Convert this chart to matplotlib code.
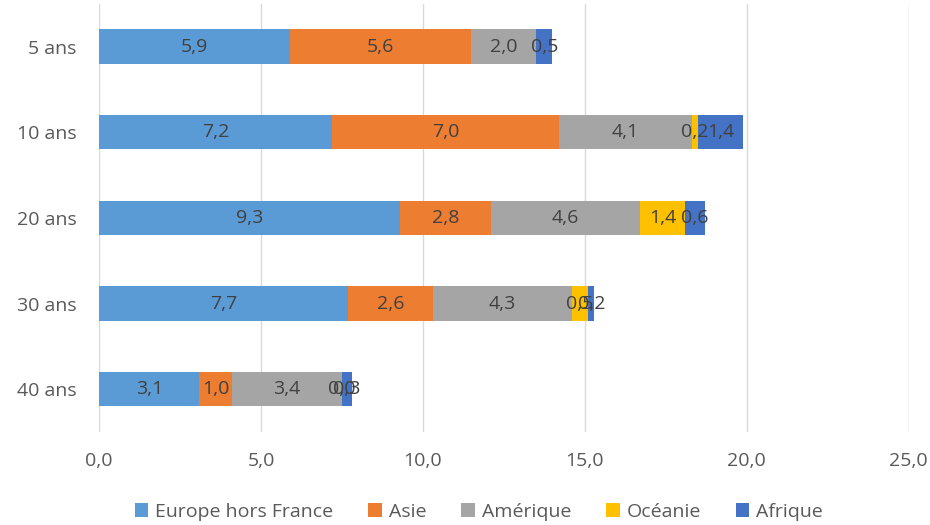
import numpy as np
import matplotlib
matplotlib.use("Agg")
import matplotlib.pyplot as plt

plt.rcParams['font.family'] = ['Open Sans', 'DejaVu Sans']

categories = ["5 ans", "10 ans", "20 ans", "30 ans", "40 ans"]
series_names = ["Europe hors France", "Asie", "Amérique", "Océanie", "Afrique"]
europe = [5.9, 7.2, 9.3, 7.7, 3.1]
asie = [5.6, 7.0, 2.8, 2.6, 1.0]
amerique = [2.0, 4.1, 4.6, 4.3, 3.4]
oceanie = [np.nan, 0.2, 1.4, 0.5, 0.0]
afrique = [0.5, 1.4, 0.6, 0.2, 0.3]
colors = ['#5B9BD5', '#ED7D31', '#A5A5A5', '#FFC000', '#4472C4']

fig = plt.figure(figsize=(9.3, 5.25), dpi=100)
ax = fig.add_axes([0.1065, 0.177, 0.8705, 0.816])

y = np.arange(len(categories))
left = np.zeros(len(categories))
for name, vals, col in zip(series_names, [europe, asie, amerique, oceanie, afrique], colors):
    vals = np.array(vals, dtype=float)
    w = np.nan_to_num(vals)
    bars = ax.barh(y, w, left=left, height=0.4, color=col, label=name, zorder=3)
    # data labels in the middle of each segment
    for i, b in enumerate(bars):
        if np.isnan(vals[i]):
            continue
        ax.text(left[i] + w[i] / 2, y[i], f"{vals[i]:.1f}".replace('.', ','),
                ha='center', va='center', fontsize=14, color='#404040', zorder=4)
    left = left + w

ax.set_xlim(0, 25)
ax.set_ylim(len(categories) - 0.5, -0.5)
ax.set_yticks(y)
ax.set_yticklabels(categories)
ax.set_xticks(np.arange(0, 26, 5))
ax.set_xticklabels([f"{v:.1f}".replace('.', ',') for v in np.arange(0, 26, 5)])
ax.tick_params(length=0, labelsize=14, labelcolor='#595959')
ax.tick_params(axis='x', pad=14)
ax.tick_params(axis='y', pad=16)
ax.grid(axis='x', color='#D9D9D9', linewidth=1, zorder=0)
for s in ax.spines.values():
    s.set_visible(False)

fig.legend(loc='center', bbox_to_anchor=(0.515, 0.025), ncol=5, frameon=False,
           fontsize=14, handlelength=0.7, handleheight=0.7, handletextpad=0.35,
           columnspacing=1.8, labelcolor='#595959')

fig.savefig('out.png', dpi=100)
